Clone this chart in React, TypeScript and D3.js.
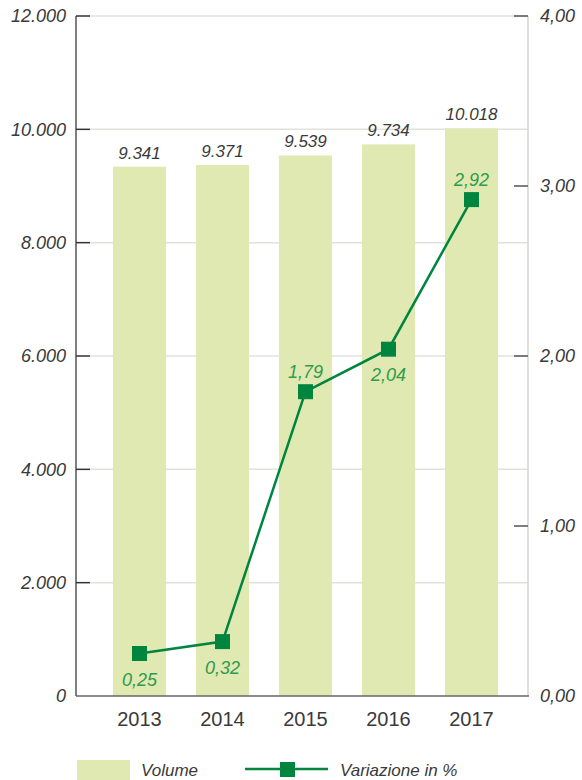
import { useEffect, useRef } from 'react';
import * as d3 from 'd3';

const years = ['2013', '2014', '2015', '2016', '2017'];
const volume = [9341, 9371, 9539, 9734, 10018];
const variation = [0.25, 0.32, 1.79, 2.04, 2.92];
// label placement for the line values: above or below the marker
const variationLabelPos = ['below', 'below', 'above', 'below', 'above'];
const leftTicks = [0, 2000, 4000, 6000, 8000, 10000, 12000];
const rightTicks = [0, 1, 2, 3, 4];

const W = 582;
const H = 780;

const itFmt = (v: number) => d3.format(',')(v).replace(/,/g, '.');
const pctFmt = (v: number) => v.toFixed(2).replace('.', ',');

export default function App() {
  const svgRef = useRef<SVGSVGElement>(null);

  useEffect(() => {
    if (!svgRef.current) return;
    const svg = d3.select(svgRef.current);
    svg.selectAll('*').remove();

    const font = '"Liberation Sans", Arial, sans-serif';
    const textColor = '#3a3a3a';
    const barColor = '#e0e9b2';
    const lineColor = '#00853f';
    const labelGreen = '#2f9b4e';

    const yTop = 16;
    const yBottom = 696;
    const xLeft = 76;
    const xRight = 528;

    const x = d3.scaleBand<string>()
      .domain(years)
      .range([98, 513])
      .paddingInner(0.36)
      .paddingOuter(0.18);

    const yL = d3.scaleLinear().domain([0, 12000]).range([yBottom, yTop]);
    const yR = d3.scaleLinear().domain([0, 4]).range([yBottom, yTop]);

    // gridlines
    svg.append('g')
      .selectAll('line')
      .data(leftTicks.filter(d => d > 0))
      .join('line')
      .attr('x1', xLeft + 14)
      .attr('x2', xRight)
      .attr('y1', d => yL(d))
      .attr('y2', d => yL(d))
      .attr('stroke', '#e2e2dc')
      .attr('stroke-width', 1.5);

    // bars
    svg.append('g')
      .selectAll('rect')
      .data(volume)
      .join('rect')
      .attr('x', (_, i) => x(years[i])!)
      .attr('y', d => yL(d))
      .attr('width', x.bandwidth())
      .attr('height', d => yBottom - yL(d))
      .attr('fill', barColor);

    // bar labels
    svg.append('g')
      .selectAll('text')
      .data(volume)
      .join('text')
      .attr('x', (_, i) => x(years[i])! + x.bandwidth() / 2)
      .attr('y', d => yL(d) - 8)
      .attr('text-anchor', 'middle')
      .attr('font-family', font)
      .attr('font-style', 'italic')
      .attr('font-size', 17)
      .attr('fill', textColor)
      .text(d => itFmt(d));

    // right axis line
    svg.append('line')
      .attr('x1', xRight).attr('x2', xRight)
      .attr('y1', yTop).attr('y2', yBottom)
      .attr('stroke', '#d4d4d0')
      .attr('stroke-width', 1.5);

    // left axis line
    svg.append('line')
      .attr('x1', xLeft).attr('x2', xLeft)
      .attr('y1', yTop).attr('y2', yBottom)
      .attr('stroke', '#555')
      .attr('stroke-width', 1.5);

    // baseline
    svg.append('line')
      .attr('x1', xLeft).attr('x2', xRight + 1)
      .attr('y1', yBottom).attr('y2', yBottom)
      .attr('stroke', '#666')
      .attr('stroke-width', 1.5);

    // left ticks
    const lt = svg.append('g');
    lt.selectAll('line')
      .data(leftTicks.filter(d => d > 0))
      .join('line')
      .attr('x1', xLeft).attr('x2', xLeft + 14)
      .attr('y1', d => yL(d)).attr('y2', d => yL(d))
      .attr('stroke', '#333')
      .attr('stroke-width', 1.5);
    lt.selectAll('text')
      .data(leftTicks)
      .join('text')
      .attr('x', 66)
      .attr('y', d => yL(d))
      .attr('dy', '0.36em')
      .attr('text-anchor', 'end')
      .attr('font-family', font)
      .attr('font-style', 'italic')
      .attr('font-size', 18)
      .attr('fill', textColor)
      .text(d => itFmt(d));

    // right ticks
    const rt = svg.append('g');
    rt.selectAll('line')
      .data(rightTicks.filter(d => d > 0))
      .join('line')
      .attr('x1', xRight - 14).attr('x2', xRight)
      .attr('y1', d => yR(d)).attr('y2', d => yR(d))
      .attr('stroke', '#555')
      .attr('stroke-width', 1.5);
    rt.selectAll('text')
      .data(rightTicks)
      .join('text')
      .attr('x', 540)
      .attr('y', d => yR(d))
      .attr('dy', '0.36em')
      .attr('font-family', font)
      .attr('font-style', 'italic')
      .attr('font-size', 18)
      .attr('fill', textColor)
      .text(d => pctFmt(d));

    // x axis labels
    svg.append('g')
      .selectAll('text')
      .data(years)
      .join('text')
      .attr('x', d => x(d)! + x.bandwidth() / 2)
      .attr('y', 726)
      .attr('text-anchor', 'middle')
      .attr('font-family', font)
      .attr('font-size', 20)
      .attr('fill', textColor)
      .text(d => d);

    // variation line
    const cx = (i: number) => x(years[i])! + x.bandwidth() / 2;
    const line = d3.line<number>()
      .x((_, i) => cx(i))
      .y(d => yR(d));
    svg.append('path')
      .datum(variation)
      .attr('d', line)
      .attr('fill', 'none')
      .attr('stroke', lineColor)
      .attr('stroke-width', 2.5);

    const ms = 15;
    svg.append('g')
      .selectAll('rect')
      .data(variation)
      .join('rect')
      .attr('x', (_, i) => cx(i) - ms / 2)
      .attr('y', d => yR(d) - ms / 2)
      .attr('width', ms)
      .attr('height', ms)
      .attr('fill', lineColor);

    svg.append('g')
      .selectAll('text')
      .data(variation)
      .join('text')
      .attr('x', (_, i) => cx(i))
      .attr('y', (d, i) => variationLabelPos[i] === 'above' ? yR(d) - 14 : yR(d) + 32)
      .attr('text-anchor', 'middle')
      .attr('font-family', font)
      .attr('font-style', 'italic')
      .attr('font-size', 18)
      .attr('fill', labelGreen)
      .text(d => pctFmt(d));

    // legend
    const lg = svg.append('g');
    lg.append('rect')
      .attr('x', 77).attr('y', 760)
      .attr('width', 53).attr('height', 22)
      .attr('fill', barColor);
    lg.append('text')
      .attr('x', 141).attr('y', 776)
      .attr('font-family', font)
      .attr('font-style', 'italic')
      .attr('font-size', 17)
      .attr('fill', textColor)
      .text('Volume');
    lg.append('line')
      .attr('x1', 245).attr('x2', 328)
      .attr('y1', 769).attr('y2', 769)
      .attr('stroke', lineColor)
      .attr('stroke-width', 2.5);
    lg.append('rect')
      .attr('x', 280).attr('y', 762)
      .attr('width', 15).attr('height', 15)
      .attr('fill', lineColor);
    lg.append('text')
      .attr('x', 340).attr('y', 776)
      .attr('font-family', font)
      .attr('font-style', 'italic')
      .attr('font-size', 17)
      .attr('fill', textColor)
      .text('Variazione in %');
  }, []);

  return (
    <svg
      ref={svgRef}
      width={W}
      height={H}
      style={{ position: 'absolute', left: 0, top: 0, background: '#fff' }}
    />
  );
}
